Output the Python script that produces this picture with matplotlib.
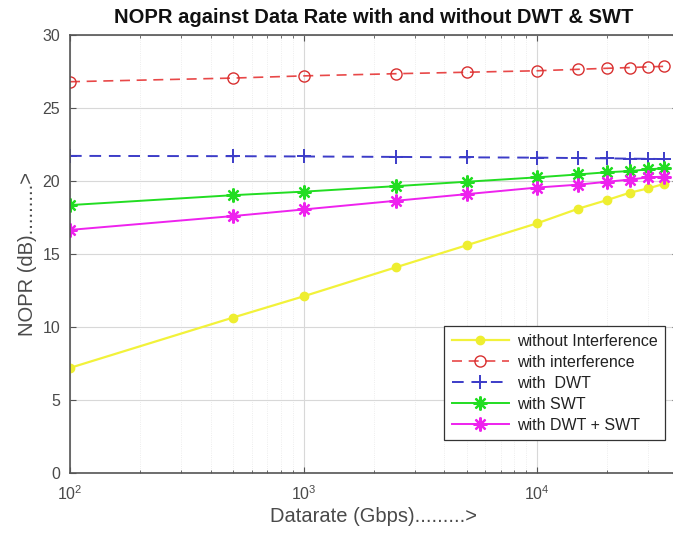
import matplotlib
matplotlib.use("Agg")
import matplotlib.pyplot as plt
from matplotlib.ticker import LogLocator, NullFormatter

datarate = [100, 500, 1000, 2500, 5000, 10000, 15000, 20000, 25000, 30000, 35000]
without_interference = [7.2, 10.65, 12.1, 14.1, 15.6, 17.1, 18.1, 18.7, 19.2, 19.5, 19.8]
with_interference = [26.8, 27.05, 27.2, 27.35, 27.45, 27.55, 27.65, 27.72, 27.77, 27.82, 27.85]
with_dwt = [21.72, 21.7, 21.68, 21.65, 21.62, 21.6, 21.57, 21.55, 21.53, 21.52, 21.5]
with_swt = [18.35, 19.03, 19.27, 19.65, 19.95, 20.25, 20.45, 20.6, 20.68, 20.8, 20.87]
with_dwt_swt = [16.65, 17.6, 18.05, 18.65, 19.1, 19.55, 19.75, 19.95, 20.1, 20.25, 20.3]

labels = ["without Interference", "with interference", "with  DWT", "with SWT", "with DWT + SWT"]
title = "NOPR against Data Rate with and without DWT & SWT"
xlabel = "Datarate (Gbps).........>"
ylabel = "NOPR (dB).........>"

plt.rcParams['font.family'] = ['Liberation Sans', 'DejaVu Sans']

fig = plt.figure(figsize=(6.73, 5.33), dpi=100)
ax = fig.add_axes([70/673, 60/533, 607.6/673, 438/533])

tc = '#4a4a4a'
ast = (8, 2, 0)
ax.plot(datarate, without_interference, '-', color='#f2f23a', marker='o', markersize=6,
        markerfacecolor='#eeee30', markeredgecolor='#eeee30', linewidth=1.6, label=labels[0])
ax.plot(datarate, with_interference, '--', color='#e84848', marker='o', markersize=8,
        markerfacecolor='none', markeredgecolor='#d83030', linewidth=1.2, dashes=(6, 4), label=labels[1])
ax.plot(datarate, with_dwt, '--', color='#3c3cc8', marker='+', markersize=10,
        markeredgewidth=1.4, linewidth=1.4, dashes=(6, 4), label=labels[2])
ax.plot(datarate, with_swt, '-', color='#22dd22', marker=ast, markersize=10,
        markeredgewidth=1.6, linewidth=1.4, label=labels[3])
ax.plot(datarate, with_dwt_swt, '-', color='#ee22ee', marker=ast, markersize=10,
        markeredgewidth=1.6, linewidth=1.4, label=labels[4])

ax.set_xscale('log')
ax.set_xlim(100, 40000)
ax.set_ylim(0, 30)
ax.set_yticks([0, 5, 10, 15, 20, 25, 30])
ax.xaxis.set_major_locator(LogLocator(base=10, numticks=10))
ax.xaxis.set_minor_locator(LogLocator(base=10, subs=range(2, 10), numticks=100))
ax.xaxis.set_minor_formatter(NullFormatter())

ax.grid(True, which='major', color='#d8d8d8', linewidth=0.8)
ax.grid(True, which='minor', axis='x', color='#e8e8e8', linewidth=0.6, linestyle=':')
ax.set_axisbelow(True)

for s in ax.spines.values():
    s.set_color('#555555')
    s.set_linewidth(1.2)

ax.tick_params(which='both', direction='in', top=True, right=True, colors='#555555',
               labelcolor=tc, labelsize=11.5)
ax.tick_params(which='major', length=4)
ax.tick_params(which='minor', length=2.5)
ax.tick_params(axis='x', which='major', pad=8)
ax.tick_params(axis='y', which='major', pad=7)

ax.set_title(title, fontsize=14.5, fontweight='bold', color='#111111', pad=9)
ax.set_xlabel(xlabel, fontsize=14.5, color=tc, labelpad=3)
ax.set_ylabel(ylabel, fontsize=14.5, color=tc, labelpad=4)

leg = ax.legend(loc='lower right', bbox_to_anchor=((665-70)/607.6, 33/438), borderaxespad=0,
                fontsize=11.5, fancybox=False, framealpha=1, edgecolor='#333333',
                handlelength=3.6, labelspacing=0.38, borderpad=0.45, handletextpad=0.5)
leg.get_frame().set_linewidth(0.9)
for t in leg.get_texts():
    t.set_color('#222222')

fig.savefig('out.png', dpi=100)
